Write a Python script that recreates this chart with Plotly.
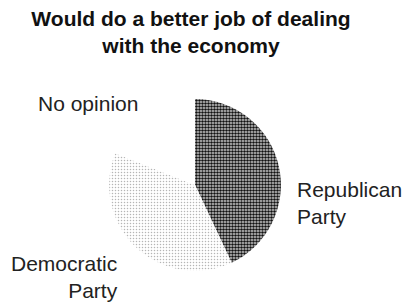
import plotly.graph_objects as go

labels = ["Republican<br>Party", "Democratic<br>Party", "No opinion"]
values = [43, 38, 19]
colors = ["#777777", "#f3f3f3", "#ffffff"]
title = "<b>Would do a better job of dealing<br>with the economy</b>"

fig = go.Figure(go.Pie(
    labels=labels,
    values=values,
    sort=False,
    direction="clockwise",
    rotation=0,
    textinfo="none",
    hoverinfo="label+percent",
    showlegend=False,
    marker=dict(
        colors=colors,
        line=dict(width=0),
        pattern=dict(shape=[".", ".", ""], fgcolor=["#111111", "#b5b5b5", "#ffffff"],
                     bgcolor=["#d0d0d0", "#ffffff", "#ffffff"], size=3,
                     solidity=[0.55, 0.2, 0.1]),
    ),
    domain=dict(x=[0.267, 0.689], y=[0.109, 0.674]),
))

lab_font = dict(family="Liberation Sans, Arial, sans-serif", size=21, color="#222222")
fig.add_annotation(x=36/408, y=1-104/304, xref="paper", yref="paper", text=labels[2],
                   showarrow=False, xanchor="left", yanchor="middle", align="left", font=lab_font)
fig.add_annotation(x=295/408, y=1-203/304, xref="paper", yref="paper", text=labels[0],
                   showarrow=False, xanchor="left", yanchor="middle", align="left", font=lab_font)
fig.add_annotation(x=120/408, y=0, xref="paper", yref="paper", text=labels[1],
                   showarrow=False, xanchor="right", yanchor="bottom", align="right", font=lab_font)

fig.update_layout(
    width=408, height=304,
    margin=dict(l=0, r=0, t=0, b=0),
    paper_bgcolor="white", plot_bgcolor="white",
    title=dict(text=title, x=191/408, xanchor="center", y=1-26/304, yanchor="middle",
               font=dict(family="Liberation Sans, Arial, sans-serif", size=21, color="#111111")),
)

fig.write_html("out.html", config={"displayModeBar": False},
               post_script="document.body.style.margin='0px';document.body.style.overflow='hidden';")
